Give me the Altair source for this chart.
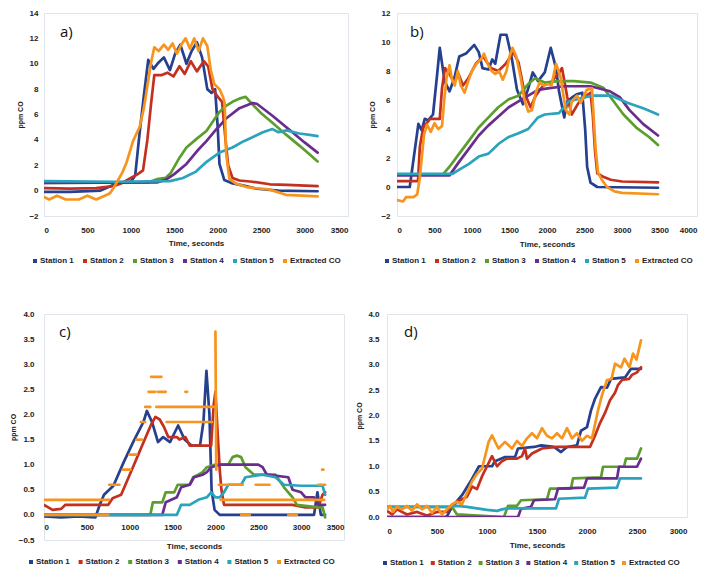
import altair as alt
import pandas as pd

SERIES = ["Station 1", "Station 2", "Station 3", "Station 4", "Station 5", "Extracted CO"]
COLORS = ["#24408F", "#C4301F", "#5C9E2E", "#6A2D8E", "#2AA3BC", "#F7941E"]

# ---------------- panel a ----------------
a_s1 = [(0,-0.1),(300,-0.1),(650,0.0),(750,0.3),(850,0.6),(1000,0.7),(1050,1.2),(1100,4.5),(1150,7.5),(1200,10.3),(1260,9.6),(1320,10.1),(1380,10.5),(1450,9.5),(1510,10.8),(1570,11.5),(1640,10.0),(1700,11.0),(1760,11.7),(1820,10.5),(1880,8.0),(1930,7.7),(1970,8.0),(2000,5.0),(2020,2.1),(2076,0.83),(2172,0.57),(2300,0.4),(2450,0.15),(2700,0.0),(3150,-0.05)]
a_s2 = [(0,0.2),(300,0.15),(600,0.2),(800,0.35),(900,0.6),(1000,1.0),(1080,1.3),(1140,1.6),(1190,4.0),(1235,7.0),(1270,9.1),(1350,9.1),(1420,9.3),(1490,9.0),(1560,9.8),(1620,9.2),(1690,10.2),(1760,9.4),(1840,10.2),(1890,9.8),(1940,8.0),(2000,7.4),(2050,7.0),(2090,4.0),(2120,2.0),(2170,1.0),(2250,0.8),(2400,0.7),(2600,0.5),(2800,0.45),(3150,0.35)]
a_s3 = [(0,0.6),(1200,0.65),(1300,0.9),(1400,1.0),(1460,1.4),(1560,2.6),(1640,3.4),(1760,4.1),(1870,4.7),(1950,5.5),(2020,6.2),(2100,6.7),(2170,7.0),(2250,7.25),(2320,7.4),(2400,6.8),(2500,6.1),(2630,5.35),(2780,4.45),(2940,3.55),(3050,2.9),(3150,2.3)]
a_s4 = [(0,0.6),(1300,0.65),(1400,0.85),(1500,1.3),(1640,2.1),(1760,3.1),(1870,3.9),(1980,4.8),(2100,5.7),(2250,6.5),(2400,6.9),(2450,6.85),(2630,5.9),(2860,4.6),(3000,3.8),(3150,3.0)]
a_s5 = [(0,0.75),(800,0.7),(1450,0.75),(1600,1.0),(1750,1.5),(1860,2.2),(2020,3.0),(2170,3.4),(2300,3.9),(2400,4.2),(2520,4.6),(2630,4.85),(2700,4.6),(2790,4.75),(2940,4.5),(3060,4.4),(3150,4.3)]
a_ext = [(0,-0.5),(60,-0.7),(150,-0.4),(250,-0.7),(400,-0.7),(500,-0.4),(600,-0.7),(700,-0.4),(760,-0.2),(800,0.2),(850,0.8),(900,1.4),(950,2.2),(1025,3.9),(1100,5.0),(1150,6.5),(1180,7.8),(1230,10.0),(1270,11.3),(1320,11.0),(1380,11.5),(1430,11.1),(1480,11.6),(1530,10.8),(1580,11.5),(1630,12.0),(1680,11.2),(1730,12.0),(1780,11.0),(1830,12.0),(1880,11.4),(1920,9.5),(1960,8.4),(2020,8.0),(2060,7.4),(2080,6.9),(2096,3.0),(2134,0.93),(2210,0.55),(2350,0.25),(2590,0.1),(2784,-0.33),(3150,-0.45)]

# ---------------- panel b ----------------
b_s1 = [(0,0.0),(170,0.0),(220,1.9),(285,4.35),(330,3.9),(370,4.7),(415,4.6),(480,5.0),(530,7.5),(570,9.6),(635,7.3),(700,6.6),(765,7.5),(830,9.0),(920,9.2),(1030,9.8),(1090,9.3),(1140,8.2),(1220,8.1),(1270,8.8),(1310,8.5),(1380,10.5),(1460,10.5),(1530,8.9),(1600,6.7),(1680,5.7),(1750,6.8),(1810,7.9),(1880,7.3),(1970,7.9),(2050,9.6),(2120,8.2),(2160,6.6),(2230,4.8),(2270,5.9),(2340,6.2),(2400,6.4),(2470,6.5),(2510,3.9),(2535,1.4),(2580,0.3),(2670,0.0),(3480,-0.05)]
b_s2 = [(0,0.4),(280,0.4),(305,2.8),(350,4.1),(440,4.7),(570,4.7),(600,6.8),(640,8.2),(700,7.8),(760,7.2),(820,7.8),(880,7.0),(950,7.5),(1050,8.5),(1150,9.0),(1250,8.2),(1350,8.0),(1450,8.5),(1550,9.3),(1620,8.6),(1700,6.5),(1780,5.5),(1850,6.3),(1950,7.0),(2050,7.2),(2150,7.8),(2200,8.2),(2270,6.2),(2330,5.0),(2420,5.8),(2500,6.2),(2580,6.5),(2610,5.0),(2640,2.5),(2670,0.95),(2750,0.7),(2850,0.5),(3000,0.38),(3480,0.32)]
b_s3 = [(0,0.85),(610,0.85),(700,1.4),(830,2.3),(960,3.2),(1090,4.1),(1220,4.8),(1350,5.5),(1490,6.05),(1620,6.3),(1750,7.1),(1840,7.5),(1970,7.2),(2140,7.3),(2360,7.3),(2580,7.2),(2750,6.85),(2890,5.9),(3020,5.0),(3190,4.1),(3360,3.45),(3480,2.9)]
b_s4 = [(0,0.8),(700,0.8),(830,1.75),(960,2.65),(1090,3.55),(1220,4.25),(1360,4.9),(1490,5.5),(1620,5.9),(1750,6.3),(1880,6.7),(2010,6.8),(2230,6.95),(2580,6.95),(2840,6.6),(2970,6.2),(3100,5.3),(3280,4.35),(3480,3.55)]
b_s5 = [(0,0.9),(740,0.9),(830,1.2),(960,1.6),(1090,2.1),(1220,2.3),(1360,3.0),(1490,3.45),(1620,3.7),(1750,4.0),(1880,4.8),(1970,5.0),(2160,5.1),(2290,5.9),(2470,6.15),(2600,6.3),(2860,6.3),(3080,5.8),(3300,5.4),(3480,5.0)]
b_ext = [(0,-0.9),(80,-1.0),(120,-0.7),(220,-0.7),(270,-0.5),(300,0.5),(330,2.0),(360,3.6),(400,4.3),(450,3.8),(500,4.4),(550,4.0),(600,4.2),(630,6.0),(660,7.5),(700,8.4),(730,7.5),(770,7.0),(810,8.0),(850,7.0),(900,6.5),(950,7.3),(1000,8.0),(1060,8.5),(1120,8.8),(1160,9.2),(1210,8.5),(1260,8.0),(1310,7.8),(1360,8.0),(1410,7.4),(1460,8.0),(1500,9.0),(1540,9.6),(1590,9.0),(1650,7.5),(1700,6.0),(1750,5.2),(1800,5.3),(1850,6.5),(1900,7.2),(1960,7.0),(2010,7.1),(2060,7.0),(2120,8.5),(2180,7.6),(2250,5.3),(2300,5.0),(2330,5.9),(2400,6.3),(2450,5.8),(2530,6.7),(2600,6.8),(2620,5.0),(2650,2.5),(2680,1.0),(2730,0.5),(2800,0.0),(2900,-0.3),(3000,-0.4),(3480,-0.5)]

# ---------------- panel c ----------------
c_s1 = [(0,-0.03),(200,-0.05),(400,-0.03),(600,-0.05),(650,0.2),(700,0.4),(810,0.58),(930,1.05),(1040,1.45),(1160,1.85),(1200,2.07),(1260,1.85),(1330,1.45),(1390,1.55),(1470,1.45),(1565,1.78),(1640,1.5),(1720,1.38),(1820,1.38),(1860,1.85),(1895,2.87),(1930,2.0),(1955,0.5),(1990,0.1),(2050,0.0),(3150,0.0),(3190,0.45),(3230,0.0),(3280,0.0)]
c_s2 = [(0,0.2),(50,0.15),(100,0.1),(200,0.12),(250,0.2),(750,0.2),(800,0.33),(900,0.4),(950,0.6),(1000,0.8),(1050,1.0),(1100,1.2),(1150,1.4),(1200,1.6),(1250,1.8),(1300,1.95),(1350,1.9),(1400,1.75),(1450,1.55),(1550,1.55),(1580,1.5),(1650,1.55),(1700,1.38),(1950,1.38),(1980,2.2),(2000,2.45),(2030,1.5),(2050,0.9),(2070,0.5),(2100,0.2),(2900,0.2),(3050,0.15),(3200,0.15),(3250,0.4),(3280,0.45)]
c_s3 = [(0,0.0),(1240,0.0),(1270,0.25),(1380,0.25),(1420,0.45),(1520,0.45),(1560,0.6),(1700,0.6),(1740,0.75),(1800,0.8),(1850,0.85),(1900,0.95),(2000,1.0),(2150,1.0),(2200,1.15),(2250,1.18),(2300,1.15),(2350,0.95),(2450,0.8),(2700,0.8),(2800,0.55),(2900,0.35),(2950,0.2),(3200,0.15),(3250,0.15),(3280,-0.05)]
c_s4 = [(0,0.0),(1380,0.0),(1420,0.25),(1550,0.35),(1600,0.55),(1700,0.6),(1750,0.75),(1850,0.8),(1900,0.85),(1950,0.95),(2050,1.0),(2500,1.0),(2550,0.95),(2600,0.8),(2850,0.75),(2900,0.5),(3000,0.45),(3050,0.35),(3150,0.35),(3200,0.2),(3280,0.2)]
c_s5 = [(0,0.0),(1550,0.0),(1600,0.2),(1700,0.2),(1800,0.3),(1900,0.35),(1950,0.45),(2000,0.35),(2050,0.35),(2100,0.45),(2150,0.6),(2300,0.6),(2350,0.75),(2550,0.8),(2700,0.75),(2800,0.6),(3000,0.58),(3250,0.58),(3280,0.4)]
c_ext_segments = [
    [(0,0.3),(760,0.3)], [(0,0.0),(750,0.0)], [(760,0.6),(880,0.6)], [(920,0.9),(1010,0.9)],
    [(1000,1.2),(1080,1.2)], [(1080,1.5),(1140,1.5)], [(1130,1.85),(1180,1.85)], [(1180,2.15),(1240,2.15)],
    [(1250,2.75),(1370,2.75)], [(1220,2.45),(1300,2.45)], [(1330,2.45),(1420,2.45)], [(1650,2.45),(1670,2.45)],
    [(1310,2.15),(2010,2.15)], [(1430,1.85),(1960,1.85)], [(2000,3.65),(2010,0.9)], [(2040,0.6),(2320,0.6)],
    [(2470,0.6),(2630,0.6)], [(2060,0.3),(3270,0.3)], [(2300,0.0),(2400,0.0)], [(2850,0.0),(2950,0.0)],
    [(3200,0.6),(3280,0.6)], [(3245,0.9),(3260,0.9)],
]

# ---------------- panel d ----------------
d_s1 = [(0,0.0),(590,0.0),(610,0.05),(650,0.2),(750,0.43),(850,0.75),(920,1.0),(1050,1.0),(1080,1.1),(1180,1.18),(1280,1.18),(1310,1.35),(1470,1.38),(1540,1.41),(1670,1.38),(1740,1.28),(1800,1.38),(1900,1.41),(1940,1.7),(2000,1.77),(2040,2.1),(2080,2.33),(2140,2.56),(2200,2.55),(2240,2.72),(2380,2.75),(2440,2.92),(2540,2.92)]
d_s2 = [(0,0.12),(50,0.05),(100,0.15),(200,0.05),(300,0.1),(400,0.03),(500,0.1),(600,0.1),(700,0.3),(750,0.35),(800,0.4),(850,0.6),(900,0.55),(950,0.8),(1000,1.0),(1050,1.2),(1100,1.0),(1150,1.1),(1200,1.15),(1300,1.15),(1350,1.2),(1380,1.35),(1400,1.15),(1450,1.25),(1500,1.3),(1550,1.35),(1700,1.38),(2030,1.38),(2080,1.6),(2130,1.85),(2180,2.05),(2230,2.3),(2280,2.45),(2310,2.6),(2350,2.7),(2420,2.72),(2450,2.8),(2500,2.85),(2540,2.95)]
d_s3 = [(0,0.2),(650,0.2),(700,0.05),(1170,0.0),(1210,0.22),(1300,0.22),(1340,0.33),(1600,0.35),(1630,0.56),(1840,0.56),(1860,0.76),(2140,0.78),(2160,0.99),(2370,0.99),(2390,1.15),(2500,1.15),(2540,1.35)]
d_s4 = [(0,0.0),(1310,0.0),(1340,0.16),(1440,0.2),(1470,0.33),(1680,0.35),(1710,0.56),(1970,0.58),(2000,0.76),(2300,0.76),(2320,0.99),(2500,0.99),(2540,1.15)]
d_s5 = [(0,0.2),(600,0.2),(700,0.22),(800,0.2),(900,0.17),(1000,0.14),(1100,0.12),(1150,0.15),(1200,0.17),(1690,0.17),(1720,0.36),(1980,0.38),(2010,0.56),(2300,0.58),(2330,0.76),(2540,0.76)]
d_ext = [(0,0.15),(30,0.22),(60,0.1),(100,0.2),(150,0.15),(200,0.22),(250,0.12),(300,0.25),(350,0.15),(400,0.22),(450,0.08),(500,0.2),(550,0.05),(600,0.15),(650,0.25),(700,0.3),(750,0.25),(790,0.43),(850,0.7),(900,0.85),(950,0.95),(1016,1.48),(1050,1.61),(1115,1.35),(1180,1.48),(1250,1.35),(1300,1.5),(1350,1.4),(1400,1.55),(1450,1.65),(1500,1.55),(1550,1.75),(1600,1.6),(1650,1.55),(1700,1.65),(1750,1.55),(1800,1.75),(1850,1.55),(1900,1.65),(1950,1.5),(2000,1.6),(2050,1.55),(2110,2.1),(2150,2.4),(2200,2.7),(2245,2.72),(2280,3.02),(2340,2.95),(2375,3.12),(2425,2.95),(2460,3.22),(2495,3.1),(2540,3.48)]

# axis tick values
a_xticks = [0, 500, 1000, 1500, 2000, 2500, 3000, 3500]
a_yticks = [-2, 0, 2, 4, 6, 8, 10, 12, 14]
b_xticks = [0, 500, 1000, 1500, 2000, 2500, 3000, 3500, 4000]
b_yticks = [-2, 0, 2, 4, 6, 8, 10, 12]
c_xticks = [0, 500, 1000, 1500, 2000, 2500, 3000, 3500]
c_yticks = [-0.5, 0.0, 0.5, 1.0, 1.5, 2.0, 2.5, 3.0, 3.5, 4.0]
d_xticks = [0, 500, 1000, 1500, 2000, 2500, 3000]
d_yticks = [0.0, 0.5, 1.0, 1.5, 2.0, 2.5, 3.0, 3.5, 4.0]

FONT = "Liberation Sans"


def build(series_list):
    rows = []
    for si, segs in enumerate(series_list):
        for gi, pts in enumerate(segs):
            for k, (x, y) in enumerate(pts):
                rows.append({"series": SERIES[si], "sidx": si, "seg": f"{si}-{gi}", "ord": k, "x": x, "y": y})
    return pd.DataFrame(rows)


def panel(series_list, label, xticks, yticks, yfmt, w, h, leg_x0, leg_x1, leg_y, xoff, lpad, tpad, ylpad, ytpad, labx, laby):
    df = build(series_list)
    color_scale = alt.Scale(domain=SERIES, range=COLORS)
    lines = alt.Chart(df).mark_line(strokeWidth=2.7, clip=True, strokeJoin="round", strokeCap="round").encode(
        x=alt.X("x:Q", scale=alt.Scale(domain=[xticks[0], xticks[-1]], nice=False, zero=False),
                axis=alt.Axis(values=xticks, format="d", title="Time, seconds", offset=xoff,
                              labelPadding=lpad, titlePadding=tpad)),
        y=alt.Y("y:Q", scale=alt.Scale(domain=[yticks[0], yticks[-1]], nice=False, zero=False),
                axis=alt.Axis(values=yticks, format=yfmt, title="ppm CO", labelPadding=ylpad,
                              titlePadding=ytpad, titleFontSize=7)),
        color=alt.Color("series:N", sort=SERIES, scale=color_scale, legend=None),
        detail="seg:N",
        order="ord:Q",
    )
    # legend row below the axis title: one key per series on a point scale
    leg_df = pd.DataFrame({"series": SERIES})
    leg_x = alt.X("series:N", sort=SERIES, axis=None,
                  scale=alt.Scale(type="point", domain=SERIES, range=[leg_x0, leg_x1], padding=0))
    keys = alt.Chart(leg_df).mark_square(size=16, opacity=1).encode(
        x=leg_x, y=alt.value(leg_y),
        color=alt.Color("series:N", sort=SERIES, scale=color_scale, legend=None),
    )
    names = alt.Chart(leg_df).mark_text(
        align="left", baseline="middle", dx=5, font=FONT, fontWeight="bold", fontSize=8, color="#1c1c2a"
    ).encode(x=leg_x, y=alt.value(leg_y), text="series:N")
    txt = alt.Chart(pd.DataFrame({"t": [label]})).mark_text(
        align="left", baseline="middle", fontSize=15, font="Open Sans", color="#111"
    ).encode(text="t:N", x=alt.value(labx), y=alt.value(laby))
    return alt.layer(lines, keys, names, txt).resolve_scale(x="independent").properties(width=w, height=h)


pa = panel([[a_s1], [a_s2], [a_s3], [a_s4], [a_s5], [a_ext]], "a)", a_xticks, a_yticks, "d",
           304, 203, -9, 241, 248, 0, 10, 5, 6, 5, 16, 19)
pb = panel([[b_s1], [b_s2], [b_s3], [b_s4], [b_s5], [b_ext]], "b)", b_xticks, b_yticks, "d",
           300, 203, -10, 240, 248, 0, 10, 6, 7, 5, 13, 19)
pc = panel([[c_s1], [c_s2], [c_s3], [c_s4], [c_s5], c_ext_segments], "c)", c_xticks, c_yticks, ".1f",
           300, 226, -13, 235, 248, -25, 8, 11, 10, 2, 15, 18)
pd_ = panel([[d_s1], [d_s2], [d_s3], [d_s4], [d_s5], [d_ext]], "d)", d_xticks, d_yticks, ".1f",
            300, 203, -2, 237, 249, 0, 10, 6, 8, 5, 17, 18)

row1 = alt.hconcat(pa, pb, spacing=19)
row2 = alt.hconcat(pc, pd_, spacing=10)

chart = alt.vconcat(row1, row2, spacing=43).properties(
    padding={"left": 0, "top": 0, "right": 0, "bottom": 0},
    background="white",
).configure_view(stroke="#dfe5ea", strokeWidth=1).configure_axis(
    domain=False, ticks=False, grid=False,
    labelFont=FONT, labelFontWeight="bold", labelFontSize=8, labelColor="#222",
    titleFont=FONT, titleFontWeight="bold", titleFontSize=8, titleColor="#222",
)

chart.save("out.html", embed_options={"renderer": "svg", "actions": False})
